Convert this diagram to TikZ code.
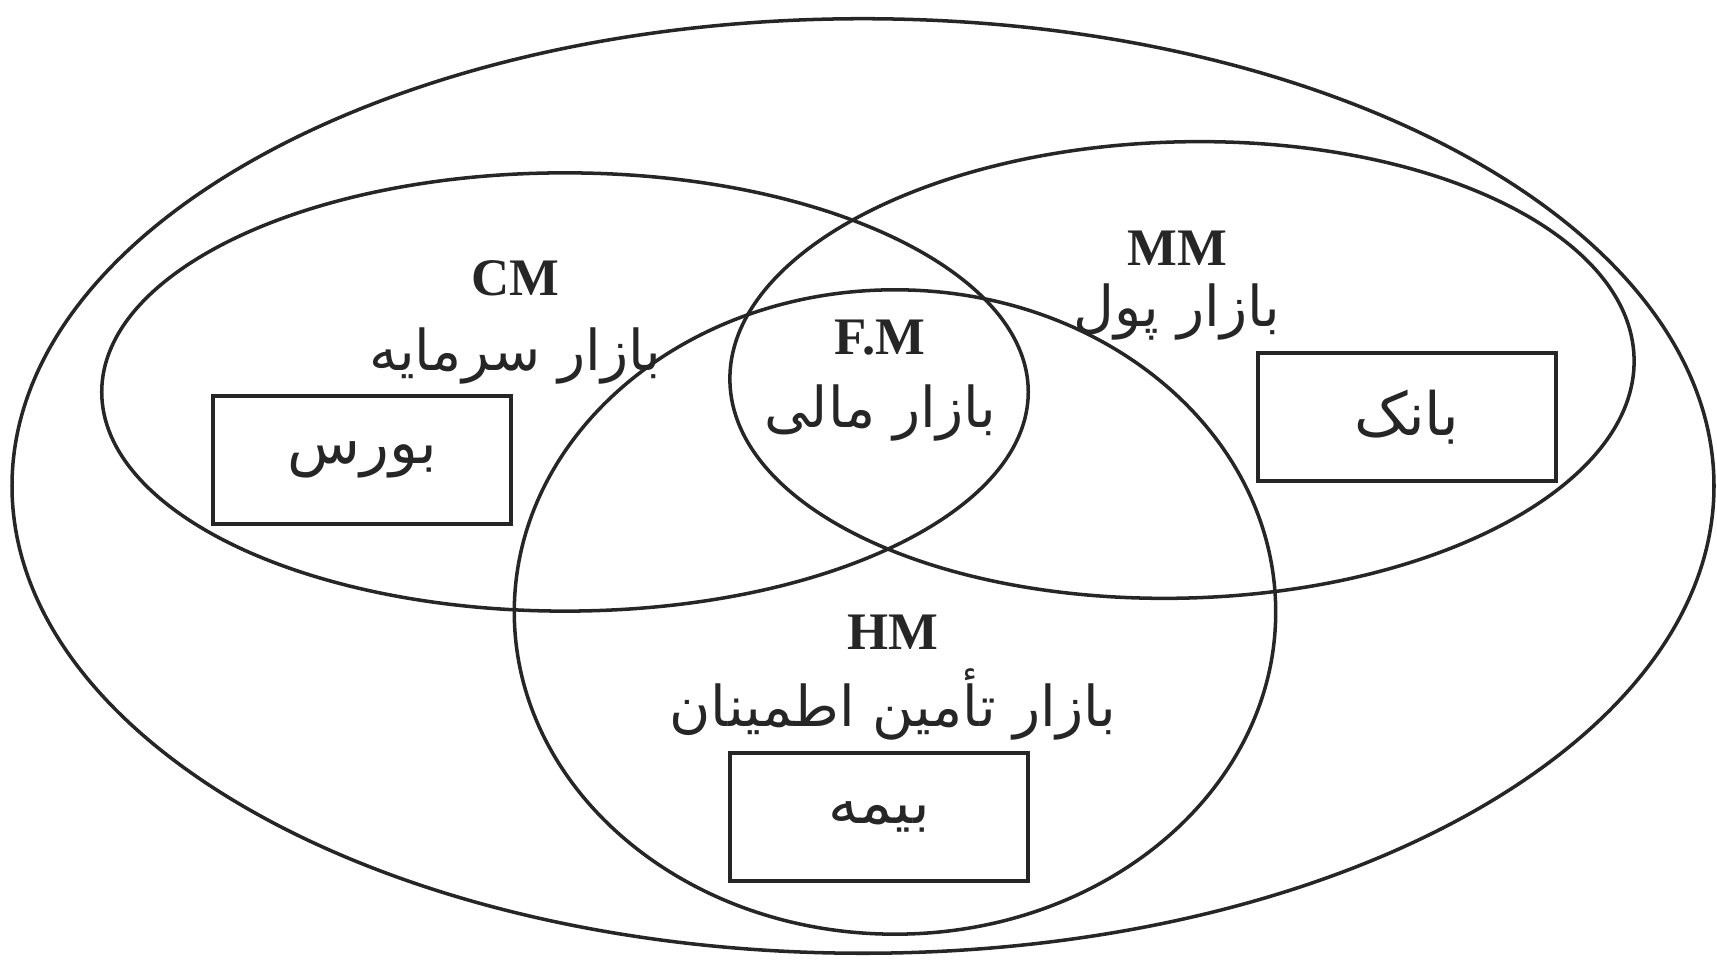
\documentclass[tikz,border=0pt]{standalone}
\usepackage{fontspec}
\setmainfont{Liberation Serif}
\newfontfamily\fafont[Script=Arabic]{DejaVu Sans}
\TeXXeTstate=1
\usetikzlibrary{shapes.geometric,positioning}

\begin{document}
\begin{tikzpicture}[x=0.01cm,y=-0.01cm,node distance=0.72cm,on grid,
    market/.style={ellipse,draw=black!85,line width=1pt,inner sep=0pt},
    firm/.style={rectangle,draw=black!85,line width=1.1pt,minimum width=2.97cm,minimum height=1.28cm,
      text=black!85,font=\fafont\fontsize{17}{19}\selectfont},
    tag/.style={text=black!85,font=\bfseries\fontsize{15}{17}\selectfont},
    faname/.style={text=black!85,font=\fafont\fontsize{16}{18}\selectfont}]
  \useasboundingbox (0,0) rectangle (1717,965);
  % the markets
  \node[market,minimum width=17.01cm,minimum height=9.34cm] (all) at (863,486) {};
  \node[market,minimum width=9.26cm,minimum height=4.38cm] (cm) at (565,392) {};
  \node[market,minimum width=9.04cm,minimum height=4.56cm,rotate=1.5] (mm) at (1182,370) {};
  \node[market,minimum width=7.61cm,minimum height=6.44cm] (hm) at (895,612) {};
  % labels
  \node[tag] (cm_tag) at (515,278) {CM};
  \node[faname] (cm_name) [below=0.78cm of cm_tag] {\beginR بازار سرمایه\endR};
  \node[tag] (mm_tag) at (1177,248) {MM};
  \node[faname] (mm_name) [below=0.64cm of mm_tag] {\beginR بازار پول\endR};
  \node[tag] (fm_tag) at (880,338) {F.M};
  \node[faname] (fm_name) [below=0.75cm of fm_tag] {\beginR بازار مالی\endR};
  \node[tag] (hm_tag) at (893,632) {HM};
  \node[faname] (hm_name) [below=of hm_tag] {\beginR بازار تأمین اطمینان\endR};
  % institutions
  \node[firm] (bourse) at (362,460) {\beginR بورس\endR};
  \node[firm] (bank) at (1407,417) {\beginR بانک\endR};
  \node[firm] (insurance) at (879,817) {\beginR بیمه\endR};
\end{tikzpicture}
\end{document}
